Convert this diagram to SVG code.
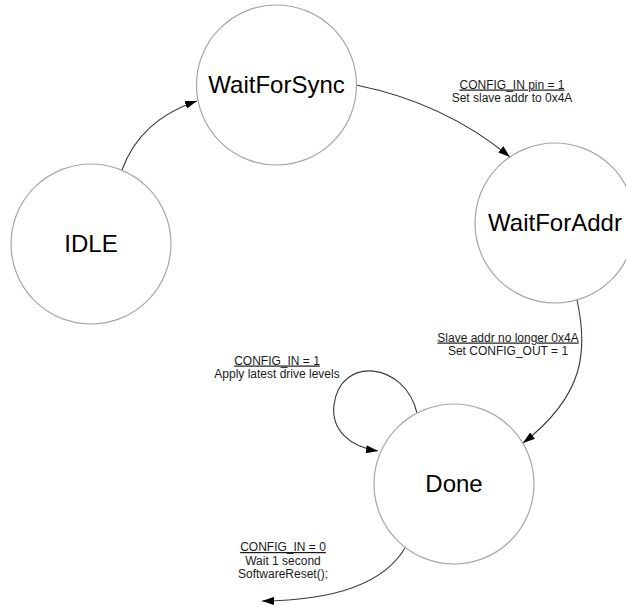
<svg xmlns="http://www.w3.org/2000/svg" width="626" height="607" viewBox="0 0 626 607">
<style>
.node circle{fill:#fff;stroke:#a6a6a6;stroke-width:1.2}
.node text{font-family:"Liberation Sans",Arial,sans-serif;font-size:24px;fill:#000;text-anchor:middle}
.edge{fill:none;stroke:#3a3a3a;stroke-width:1.1;marker-end:url(#arr)}
.lbl{font-family:"Liberation Sans",Arial,sans-serif;font-size:12px;fill:#1a1a1a;text-anchor:middle}
.u{text-decoration:underline}
</style>
<defs>
<marker id="arr" markerUnits="userSpaceOnUse" viewBox="0 0 12 8" refX="12" refY="4" markerWidth="12" markerHeight="8" orient="auto">
<path d="M0,0 L12,4 L0,8 z" fill="#000"/>
</marker>
</defs>
<rect width="626" height="607" fill="#fff"/>
<g id="connectors">
<path class="edge" d="M122,170 Q140,120 197,101"/>
<path class="edge" d="M356,85 Q445,103 510,157"/>
<path class="edge" d="M577,300 C588,350 585,395 523,443"/>
<path class="edge" d="M417,413 C405,362 340,355 334,405 C331,430 350,447 378,451"/>
<path class="edge" d="M405,548 Q374,600 262,601"/>
<text class="lbl u" x="512" y="88.5">CONFIG_IN pin = 1</text>
<text class="lbl" x="512" y="102">Set slave addr to 0x4A</text>
<text class="lbl u" x="508" y="341.5">Slave addr no longer 0x4A</text>
<text class="lbl" x="508" y="355">Set CONFIG_OUT = 1</text>
<text class="lbl u" x="277" y="364.5">CONFIG_IN = 1</text>
<text class="lbl" x="277" y="378">Apply latest drive levels</text>
<text class="lbl u" x="283" y="551">CONFIG_IN = 0</text>
<text class="lbl" x="283" y="564.5">Wait 1 second</text>
<text class="lbl" x="283" y="578">SoftwareReset();</text>
</g>
<g id="IDLE" class="node"><circle cx="91" cy="244" r="80"/><text x="91" y="252">IDLE</text></g>
<g id="WaitForSync" class="node"><circle cx="276.5" cy="85" r="80"/><text x="276.5" y="93">WaitForSync</text></g>
<g id="WaitForAddr" class="node"><circle cx="555" cy="223" r="80"/><text x="555" y="231">WaitForAddr</text></g>
<g id="Done" class="node"><circle cx="454" cy="484" r="80"/><text x="454" y="492">Done</text></g>
</svg>
